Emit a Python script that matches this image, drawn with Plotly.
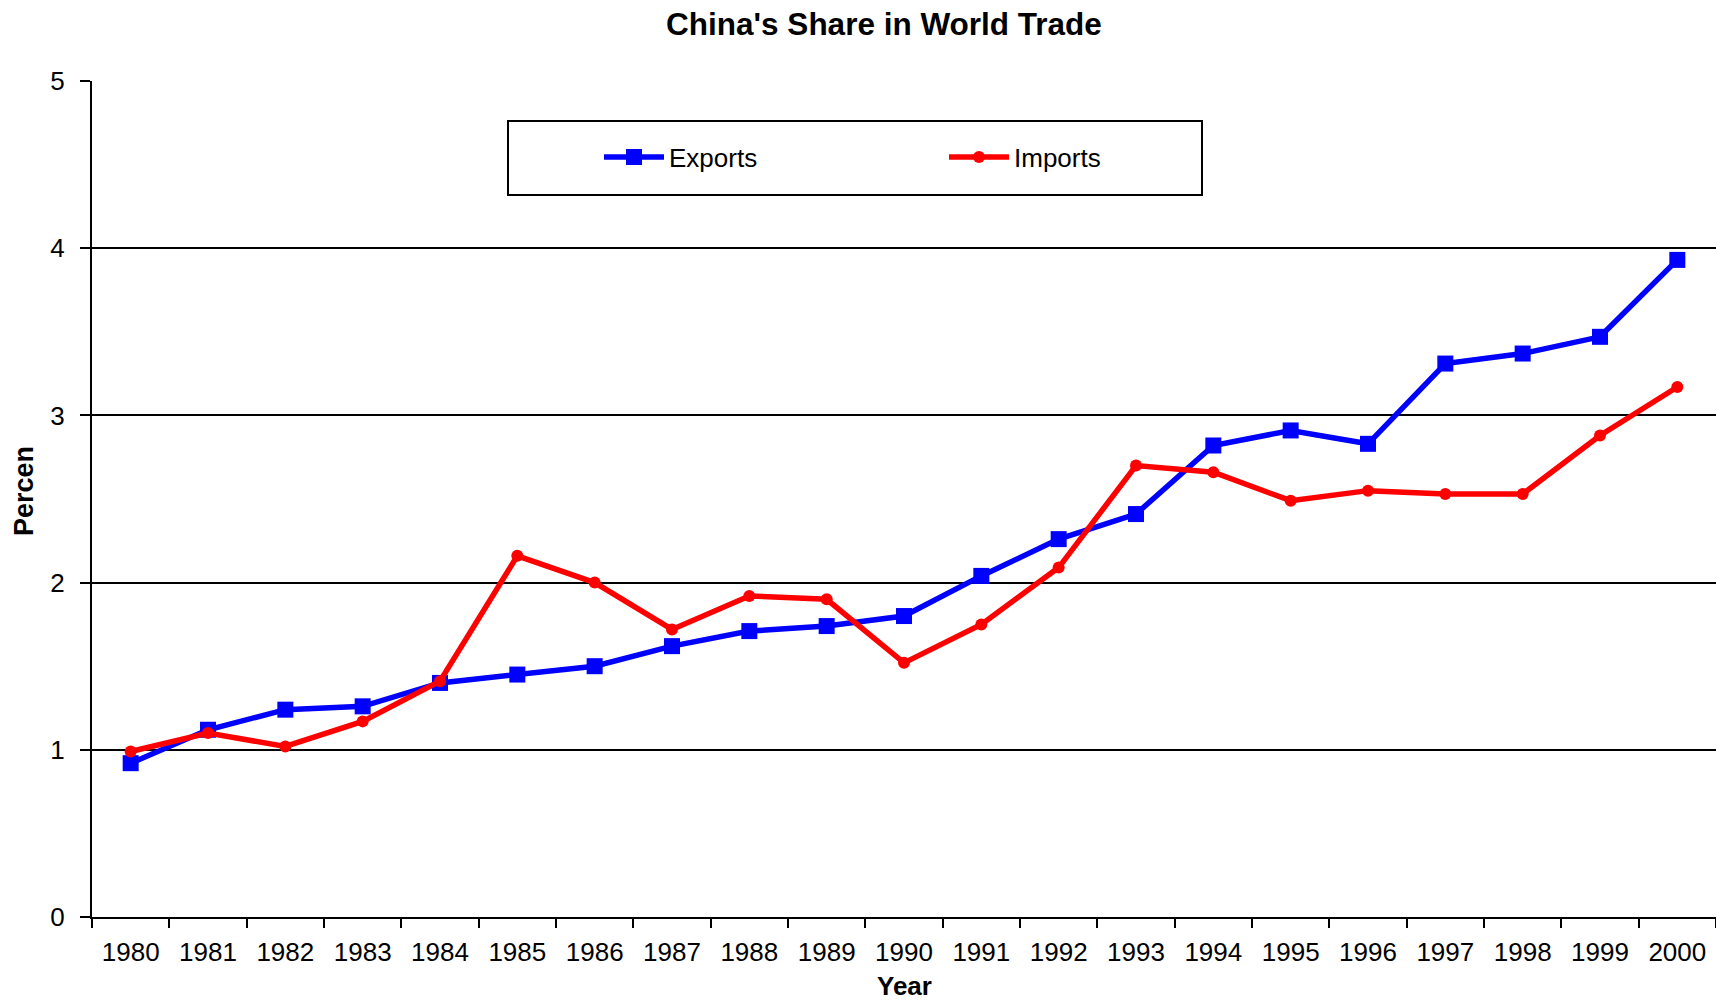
import plotly.graph_objects as go

# China's share of world trade, percent
years = [str(y) for y in range(1980, 2001)]
exports = [0.92, 1.12, 1.24, 1.26, 1.40, 1.45, 1.50, 1.62, 1.71, 1.74, 1.80,
           2.04, 2.26, 2.41, 2.82, 2.91, 2.83, 3.31, 3.37, 3.47, 3.93]
imports = [0.99, 1.10, 1.02, 1.17, 1.41, 2.16, 2.00, 1.72, 1.92, 1.90, 1.52,
           1.75, 2.09, 2.70, 2.66, 2.49, 2.55, 2.53, 2.53, 2.88, 3.17]

y_ticks = [0, 1, 2, 3, 4, 5]

W, H = 1716, 1001
L, R, T, B = 92, 0, 81, 84
FONT = "Liberation Sans, Arial, sans-serif"

fig = go.Figure()
fig.add_trace(go.Scatter(
    x=years, y=exports, name="Exports", mode="lines+markers",
    line=dict(color="#0000FF", width=5.5),
    marker=dict(symbol="square", size=16, color="#0000FF", line=dict(width=0)),
))
fig.add_trace(go.Scatter(
    x=years, y=imports, name="Imports", mode="lines+markers",
    line=dict(color="#FF0000", width=5.5),
    marker=dict(symbol="circle", size=12, color="#FF0000", line=dict(width=0)),
))

plot_w = W - L - R
plot_h = H - T - B

def px_x(x):
    return (x - L) / plot_w

def px_y(y):
    return (H - B - y) / plot_h

fig.update_layout(
    width=W, height=H,
    margin=dict(l=L, r=R, t=T, b=B, pad=0, autoexpand=False),
    paper_bgcolor="white", plot_bgcolor="white",
    font=dict(family=FONT, size=26, color="black"),
    title=dict(
        text="<b>China's Share in World Trade</b>",
        font=dict(family=FONT, size=31.5, color="black"),
        xref="container", yref="container",
        x=884 / W, xanchor="center",
        y=1 - 24 / H, yanchor="middle",
    ),
    xaxis=dict(
        type="category", range=[-0.5, len(years) - 0.5], automargin=False,
        tickson="boundaries", ticks="outside", ticklen=9, tickwidth=2,
        tickcolor="black", showline=True, linecolor="black", linewidth=2,
        showgrid=False, zeroline=False,
        tickfont=dict(family=FONT, size=26, color="black"),
        ticklabelstandoff=11,
    ),
    yaxis=dict(
        range=[0, 5], tickvals=y_ticks, automargin=False,
        ticks="outside", ticklen=10, tickwidth=2,
        tickcolor="black", showline=True, linecolor="black", linewidth=2,
        showgrid=True, gridcolor="black", gridwidth=2, zeroline=False,
        tickfont=dict(family=FONT, size=26, color="black"),
        ticklabelstandoff=10,
    ),
    legend=dict(
        orientation="h",
        x=px_x(599), xanchor="left",
        y=px_y(157), yanchor="middle",
        bgcolor="rgba(0,0,0,0)", borderwidth=0,
        itemwidth=60, entrywidth=270, entrywidthmode="pixels",
        font=dict(family=FONT, size=26, color="black"),
    ),
    shapes=[dict(
        type="rect", xref="paper", yref="paper",
        x0=px_x(508), x1=px_x(1202), y0=px_y(195), y1=px_y(121),
        line=dict(color="black", width=2), fillcolor="white", layer="below",
    )],
    annotations=[
        # vertical axis caption
        dict(
            text="<b>Percen</b>", textangle=-90,
            xref="paper", yref="paper",
            x=px_x(24), y=px_y(538), xanchor="center", yanchor="bottom",
            showarrow=False, font=dict(family=FONT, size=27, color="black"),
        ),
        # horizontal axis caption
        dict(
            text="<b>Year</b>",
            xref="paper", yref="paper",
            x=0.5, y=px_y(986), xanchor="center", yanchor="middle",
            showarrow=False, font=dict(family=FONT, size=26, color="black"),
        ),
    ],
    showlegend=True,
)

fig.write_html("out.html", config={"displayModeBar": False})
